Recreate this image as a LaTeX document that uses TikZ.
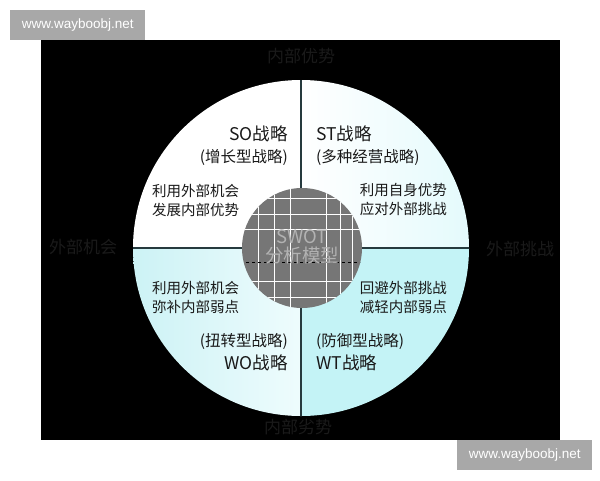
\documentclass[tikz,border=0pt]{standalone}
\usepackage{fontspec}
\setmainfont{Noto Sans CJK SC}
\newfontfamily\wmfont{Liberation Sans}
\usepackage{xcolor}
\usetikzlibrary{positioning}
\definecolor{Mark-G}{RGB}{168, 168, 168}
\definecolor{Quad-TR}{RGB}{228, 250, 252}
\definecolor{Quad-BL}{RGB}{204, 242, 245}
\definecolor{Quad-BLw}{RGB}{238, 252, 253}
\definecolor{Quad-BR}{RGB}{196, 243, 246}
\definecolor{Core-G}{RGB}{118, 118, 118}
\definecolor{Axis-D}{RGB}{38, 58, 62}
\definecolor{Ghost-D}{RGB}{26, 26, 26}

\tikzset{
  ttl/.style={inner sep=0pt, font=\fontsize{17.5}{20}\selectfont, text=black!90},
  subttl/.style={inner sep=0pt, font=\fontsize{15.5}{18}\selectfont, text=black!90},
  desc/.style={inner sep=0pt, align=left, font=\fontsize{14.5}{19}\selectfont, text=black!90},
  ghost/.style={inner sep=0pt, font=\fontsize{17}{20}\selectfont, text=Ghost-D},
  coretext/.style={inner sep=0pt, font=\fontsize{18.5}{21}\selectfont, text=black!30},
  wmark/.style={rectangle, fill=Mark-G, minimum width=135pt, minimum height=30pt, inner sep=0pt, text=white, font=\wmfont\fontsize{13.5}{15}\selectfont}
}

\begin{document}
\begin{tikzpicture}[x=1pt, y=-1pt]

\useasboundingbox (0,0) rectangle (600,480);
\fill [white] (0,0) rectangle (600,480);
\fill [black] (41,40) rectangle (560,440);

% faint labels on the black ground
\node [ghost] (gs) at (301,56) {内部优势};
\node [ghost] (go) at (83,247) {外部机会};
\node [ghost] (gt) at (520,249) {外部挑战};
\node [ghost] (gw) at (298,427) {内部劣势};

% quadrants
\coordinate (c) at (301,248);
\begin{scope}
\clip (c) circle [radius=168pt];
\fill [white] (c) rectangle ++(-170,-170);
\shade [left color=white, right color=Quad-TR] (c) rectangle ++(170,-170);
\shade [left color=Quad-BL, right color=Quad-BLw] (c) rectangle ++(-170,170);
\fill [Quad-BR] (c) rectangle ++(170,170);
\end{scope}
\node [circle, minimum size=336pt, inner sep=0pt] (disk) at (c) {};
\draw [Axis-D, line width=1.2pt] (disk.north) -- (disk.south);
\draw [Axis-D, line width=1.2pt] (disk.west) -- (disk.east);

% centre
\node [circle, minimum size=120pt, inner sep=0pt, fill=Core-G] (core) at (302,248) {};
\begin{scope}
\clip (core.center) circle [radius=60pt];
\foreach \gx in {258,274,290,326,340,352}
  \draw [white, line width=0.8pt] (\gx,180) -- (\gx,316);
\foreach \gy in {198,214,229,281,297}
  \draw [white, line width=0.8pt] (234,\gy) -- (370,\gy);
\draw [black, line width=1pt, dashed] (234,262) -- (370,262);
\end{scope}
\node [coretext] (swot) at (302,237) {SWOT};
\node [coretext, below=3pt of swot] (fxmx) {分析模型};

% SO
\node [ttl, anchor=east] (so) at (288,134) {SO战略};
\node [subttl, below=7pt of so.south east, anchor=north east] (sosub) {(增长型战略)};
\node [desc, anchor=west] (sodesc) at (152,200) {利用外部机会\\发展内部优势};

% ST
\node [ttl, anchor=west] (st) at (316,134) {ST战略};
\node [subttl, below=7pt of st.south west, anchor=north west] (stsub) {(多种经营战略)};
\node [desc, anchor=east] (stdesc) at (447,200) {利用自身优势\\应对外部挑战};

% WO
\node [desc, anchor=west] (wodesc) at (152,297) {利用外部机会\\弥补内部弱点};
\node [ttl, anchor=east] (wo) at (288,363) {WO战略};
\node [subttl, above=5pt of wo.north east, anchor=south east] (wosub) {(扭转型战略)};

% WT
\node [desc, anchor=east] (wtdesc) at (447,297) {回避外部挑战\\减轻内部弱点};
\node [ttl, anchor=west] (wt) at (316,363) {WT战略};
\node [subttl, above=5pt of wt.north west, anchor=south west] (wtsub) {(防御型战略)};

% watermarks
\node [wmark, anchor=north west] (wm1) at (10,10) {www.wayboobj.net};
\node [wmark, anchor=north west] (wm2) at (457,440) {www.wayboobj.net};

\end{tikzpicture}
\end{document}
